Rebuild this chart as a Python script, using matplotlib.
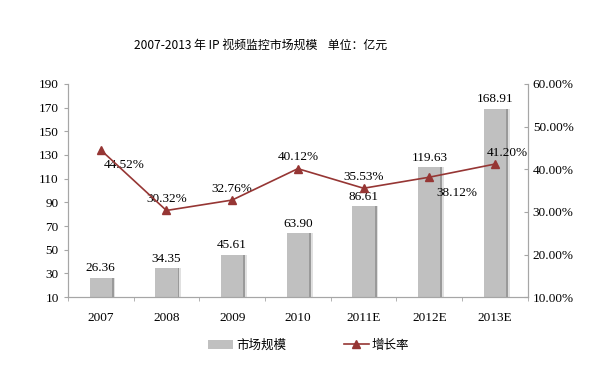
import matplotlib.pyplot as plt
import numpy as np

plt.rcParams['font.family'] = ['Liberation Serif', 'Noto Sans CJK SC']

years = ['2007', '2008', '2009', '2010', '2011E', '2012E', '2013E']
market = [26.36, 34.35, 45.61, 63.90, 86.61, 119.63, 168.91]
growth = [44.52, 30.32, 32.76, 40.12, 35.53, 38.12, 41.20]

bar_c = '#c0c0c0'
line_c = '#963634'
axis_c = '#a6a6a6'

fig = plt.figure(figsize=(6.11, 3.71), dpi=100)
ax = fig.add_axes([0.111, 0.199, 0.753, 0.575])
ax2 = ax.twinx()

x = np.arange(len(years))
w = 0.34
h = np.array(market) - 10
# shadow strips on the right side of each bar
ax.bar(x + w / 2 + 0.035, h, width=0.04, bottom=10, color='#e0e0e0', zorder=1)
ax.bar(x + w / 2 + 0.012, h, width=0.03, bottom=10, color='#9a9a9a', zorder=1)
ax.bar(x, h, width=w, bottom=10, color=bar_c, zorder=2, label='市场规模')
for i, v in enumerate(market):
    ax.text(i, v + 3, f'{v:.2f}', ha='center', va='bottom', fontsize=9.5)

ax.set_ylim(10, 190)
ax.set_yticks(range(10, 191, 20))
ax.set_xlim(-0.5, len(years) - 0.5)
ax.set_xticks(x)
ax.set_xticklabels(years, fontsize=9.5)
ax.set_xticks(np.arange(-0.5, len(years), 1), minor=True)
ax.tick_params(axis='x', which='major', length=0, pad=11)
ax.tick_params(axis='x', which='minor', length=3, color=axis_c)
ax.tick_params(axis='y', labelsize=9.5, length=3, color=axis_c)

ax2.plot(x, growth, color=line_c, marker='^', markersize=6, linewidth=1.2, zorder=5, label='增长率')
ax2.set_ylim(10, 60)
ax2.set_yticks(range(10, 61, 10))
ax2.set_yticklabels([f'{t:.2f}%' for t in range(10, 61, 10)], fontsize=9.5)
ax2.tick_params(axis='y', length=3, color=axis_c, direction='in')

offsets = [(0.05, -2.2, 'left'), (0, 1.3, 'center'), (0, 1.3, 'center'), (0, 1.3, 'center'),
           (0, 1.3, 'center'), (0.1, -2.2, 'left'), (0.18, 1.3, 'center')]
for i, v in enumerate(growth):
    dx, dy, ha = offsets[i]
    ax2.text(i + dx, v + dy, f'{v:.2f}%', ha=ha, va='bottom' if dy > 0 else 'top', fontsize=9.5)

for a in (ax, ax2):
    a.spines['top'].set_visible(False)
    for s in ('left', 'right', 'bottom'):
        a.spines[s].set_color(axis_c)
ax2.set_zorder(ax.get_zorder() + 1)
ax2.patch.set_visible(False)

fig.text(0.426, 0.877, '2007-2013 年 IP 视频监控市场规模    单位：亿元', ha='center', va='center',
         fontsize=8.6, family=['Noto Sans CJK SC', 'DejaVu Sans'])

h1, l1 = ax.get_legend_handles_labels()
h2, l2 = ax2.get_legend_handles_labels()
fig.legend(h1[-1:] + h2, l1[-1:] + l2, loc='center', bbox_to_anchor=(0.505, 0.07), ncol=2, frameon=False,
           prop={'family': 'Noto Sans CJK SC', 'size': 9}, columnspacing=4.6, handlelength=2.0,
           handletextpad=0.25)

fig.savefig('out.png', dpi=100)
